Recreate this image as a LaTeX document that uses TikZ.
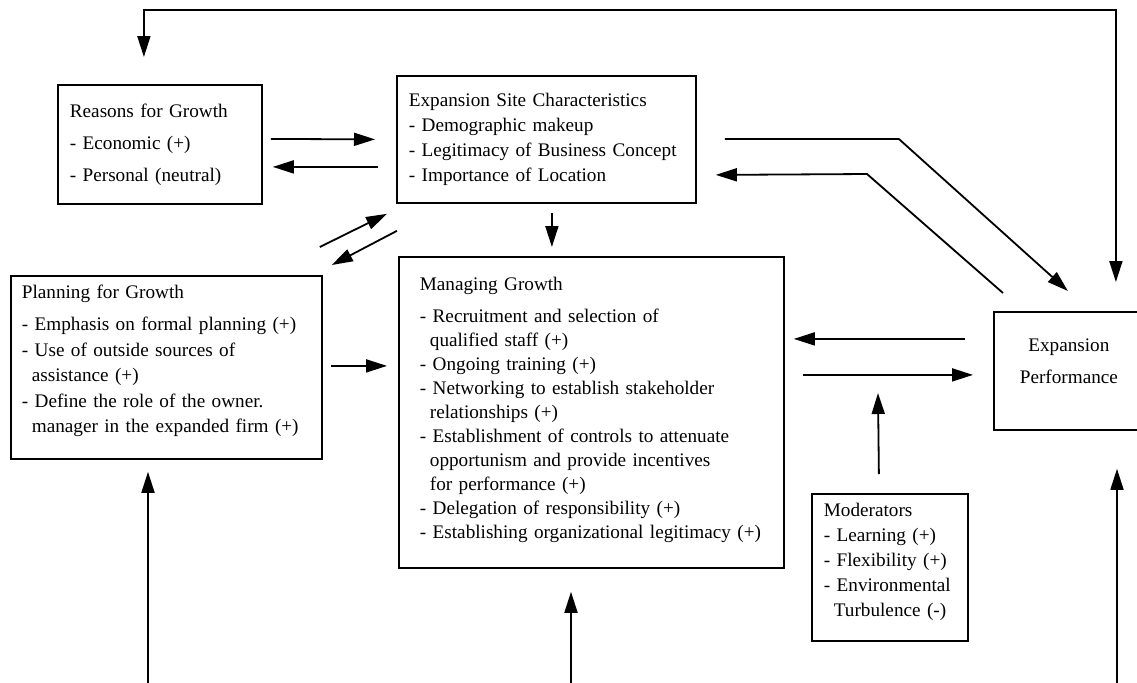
\documentclass[tikz,border=0pt]{standalone}
\usepackage{fontspec}
\setmainfont{Liberation Serif}[WordSpace=0.85]
\usetikzlibrary{calc, positioning, arrows.meta}
\tikzset{
    boxed/.style={draw, rectangle, line width=0.9pt, anchor=north west, align=left, inner ysep=2pt, font=\fontsize{9.6}{12}\selectfont},
    flow/.style={-{Triangle[length=10.5pt,width=6.5pt]}, line width=0.9pt},
    twoway/.style={{Triangle[length=10.5pt,width=6.5pt]}-{Triangle[length=10.5pt,width=6.5pt]}, line width=0.9pt} }
\newcommand{\contd}{\hspace*{5pt}}
\newcommand{\lowpad}[1]{\rule[-#1]{0pt}{0pt}}

\begin{document}
\begin{tikzpicture}[x=0.5pt, y=-0.5pt]
    \useasboundingbox (0,0) rectangle (1137,682);
    \clip (0,0) rectangle (1137,682);
    \node[boxed, inner xsep=6pt, text width=90pt, minimum height=59.5pt] (R) at (57,84)
        {Reasons for Growth\\[4pt]- Economic (+)\\[4pt]- Personal (neutral)};
    \node[boxed, inner xsep=6pt, text width=137.5pt, minimum height=63.5pt] (E) at (396,75)
        {Expansion Site Characteristics\\[0.5pt]- Demographic makeup\\[0.5pt]- Legitimacy of Business Concept\\[0.5pt]- Importance of Location\lowpad{2pt}};
    \node[boxed, inner xsep=5.5pt, text width=144.5pt, minimum height=91.5pt] (P) at (10,275)
        {Planning for Growth\\[4pt]- Emphasis on formal planning (+)\\[0.75pt]- Use of outside sources of\\[0.75pt]\contd assistance (+)\\[0.75pt]- Define the role of the owner.\\[0.75pt]\contd manager in the expanded firm (+)\lowpad{8.5pt}};
    \node[boxed, inner xsep=10.5pt, text width=171.5pt, minimum height=155.5pt] (M) at (398,256)
        {Managing Growth\\[4pt]- Recruitment and selection of\\\contd qualified staff (+)\\- Ongoing training (+)\\- Networking to establish stakeholder\\\contd relationships (+)\\- Establishment of controls to attenuate\\\contd opportunism and provide incentives\\\contd for performance (+)\\- Delegation of responsibility (+)\\- Establishing organizational legitimacy (+)\lowpad{4.5pt}};
    \node[boxed, align=center, inner xsep=3pt, text width=69pt, minimum height=59pt] (X) at (993,311)
        {Expansion\\[4pt]Performance\lowpad{10pt}};
    \node[boxed, inner xsep=6pt, text width=66pt, minimum height=73.5pt] (D) at (811,493)
        {Moderators\\[0.5pt]- Learning (+)\\[0.5pt]- Flexibility (+)\\[0.5pt]- Environmental\\[0.5pt]\contd Turbulence (-)\lowpad{8pt}};
    % ----
    \draw[flow] ($(R.east)+(8,-5.5)$) -- ($(E.west)+(-21,0)$);
    \draw[flow] ($(E.west)+(-18,27.5)$) -- ($(R.east)+(10,22.5)$);
    \draw[flow] ($(P.north east)+(-3,-28)$) -- ($(E.south west)+(-9,10)$);
    \draw[flow] ($(E.south west)+(1,27)$) -- ($(P.north east)+(9,-10)$);
    \draw[flow] ($(E.south)+(5.5,9)$) coordinate (e1) -- ($(e1 |- M.north)+(0,-9)$);
    \draw[flow] ($(E.east)+(28,-0.5)$) -- ++(174,0) -- ($(X.north)+(-1,-20)$);
    \draw[flow] ($(X.north west)+(10,-18)$) -- ++(-136,-119) -- ($(E.east)+(19,35.5)$);
    \draw[flow] ($(P.east)+(8,-1.5)$) -- ($(M.west)+(-11,-46.5)$);
    \draw[flow] ($(X.west)+(-28,-32)$) -- ($(M.east)+(9,-73.5)$);
    \draw[flow] ($(M.east)+(18,-37.5)$) -- ($(X.west)+(-20,4)$);
    \coordinate (mod) at (878,393);
    \draw[flow] ($(D.north)+(-11,-19)$) -- (mod);
    \draw[twoway] ($(R.north)+(-16,-27)$) -- ++(0,-47) -| ($(X.north)+(47,-29)$);
    % ----
    \coordinate (fromP) at (148,690);
    \coordinate (fromM) at (571,690);
    \coordinate (fromX) at (1117,690);
    \draw[flow] (fromP) -- ($(fromP |- P.south)+(0,12)$);
    \draw[flow] (fromM) -- ($(fromM |- M.south)+(0,23)$);
    \draw[flow] (fromX) -- ($(fromX |- X.south)+(0,38)$);
\end{tikzpicture}
\end{document}
